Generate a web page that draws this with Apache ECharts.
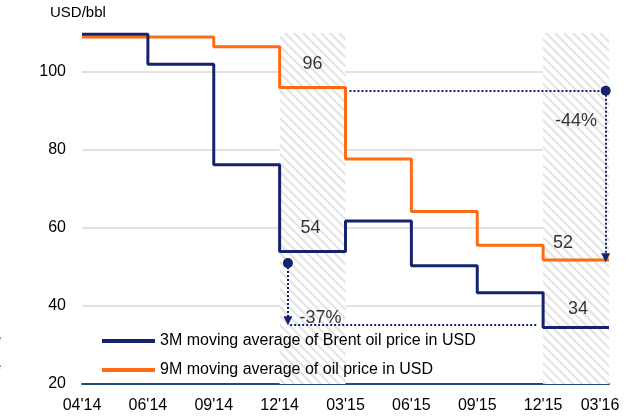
<!DOCTYPE html>
<html>
<head>
<meta charset="utf-8">
<script src="https://cdn.jsdelivr.net/npm/echarts@6/dist/echarts.min.js"></script>
<style>
  html, body { margin: 0; padding: 0; background: #ffffff; }
  #chart { width: 626px; height: 416px; }
</style>
</head>
<body>
<div id="chart"></div>
<script>
// x categories (evenly spaced quarters)
var xLabels = ["04'14", "06'14", "09'14", "12'14", "03'15", "06'15", "09'15", "12'15", "03'16"];
// 3M moving average of Brent, held until next label
var brent3M = [109.7, 102, 76.2, 54, 61.8, 50.3, 43.4, 34.5, 34.5];
// 9M moving average
var oil9M = [109, 109, 106.5, 96, 77.7, 64.2, 55.6, 51.8, 51.8];
var yTicks = [20, 40, 60, 80, 100];
// shaded periods (index from, index to)
var shadeFrom = [3, 7];
var shadeTo = [4, 8];
// value labels
var annoText = ['96', '54', '52', '34', '-44%', '-37%'];
var annoX = [3.5, 3.47, 7.3, 7.53, 7.5, 3.62];
var annoY = [102, 60, 56.2, 39.2, 87.5, 36.9];

var NAVY = '#14236b';
var ORANGE = '#ff6a13';
var FONT = '"Liberation Sans", Arial, sans-serif';

function pairs(vals) {
  return vals.map(function (v, i) { return [i, v]; });
}

// diagonal hatch pattern
var hatch = document.createElement('canvas');
hatch.width = 9; hatch.height = 9;
var hc = hatch.getContext('2d');
hc.fillStyle = '#ffffff';
hc.fillRect(0, 0, 9, 9);
hc.strokeStyle = '#e4e4e4';
hc.lineWidth = 2.2;
hc.beginPath();
hc.moveTo(-2, -2); hc.lineTo(11, 11);
hc.moveTo(-2, 7); hc.lineTo(2, 11);
hc.moveTo(7, -2); hc.lineTo(11, 2);
hc.stroke();

var chart = echarts.init(document.getElementById('chart'));

var dotted = { type: 'dotted', color: NAVY, width: 2 };

var option = {
  animation: false,
  textStyle: { fontFamily: FONT },
  grid: { left: 82, right: 17, top: 33, bottom: 32, outerBoundsMode: 'none', containLabel: false },
  graphic: [
    { type: 'text', left: 50, top: 5, style: { text: 'USD/bbl', font: '15px ' + FONT, fill: '#000' } },
    { type: 'text', left: -5, top: 333, style: { text: 'e', font: '11px ' + FONT, fill: '#333' } },
    { type: 'text', left: -5, top: 361, style: { text: 'e', font: '11px ' + FONT, fill: '#333' } }
  ],
  legend: {
    data: ['3M moving average of Brent oil price in USD', '9M moving average of oil price in USD'],
    orient: 'vertical',
    left: 97,
    top: 328,
    itemWidth: 53,
    itemHeight: 4,
    itemGap: 13,
    icon: 'rect',
    textStyle: { fontSize: 16, color: '#000', fontFamily: FONT }
  },
  xAxis: {
    type: 'value',
    min: 0,
    max: xLabels.length - 1,
    interval: 1,
    axisLine: { lineStyle: { color: '#1f4e79', width: 2 } },
    axisTick: { show: false },
    splitLine: { show: false },
    axisLabel: {
      fontSize: 16,
      color: '#000',
      margin: 14,
      formatter: function (v) {
        if (v === xLabels.length - 1) return '{last|' + xLabels[v] + '}';
        return xLabels[v] || '';
      },
      rich: {
        last: { fontSize: 16, color: '#000', fontFamily: FONT, padding: [0, 18, 0, 0] }
      }
    }
  },
  yAxis: {
    type: 'value',
    min: 20,
    max: 110,
    interval: 20,
    axisLine: { show: false },
    axisTick: { show: false },
    splitLine: {
      lineStyle: {
        color: ['#d9d9d9', '#d9d9d9', '#d9d9d9', '#d9d9d9', '#d9d9d9', 'rgba(0,0,0,0)'],
        width: 1.5
      }
    },
    axisLabel: {
      fontSize: 16,
      color: '#000',
      margin: 16,
      showMaxLabel: false,
      formatter: function (v) { return yTicks.indexOf(v) >= 0 ? String(v) : ''; }
    }
  },
  series: [
    {
      name: 'shade',
      type: 'line',
      data: [],
      silent: true,
      markArea: {
        silent: true,
        itemStyle: { color: { image: hatch, repeat: 'repeat' } },
        data: shadeFrom.map(function (f, i) { return [{ xAxis: f }, { xAxis: shadeTo[i] }]; })
      }
    },
    {
      name: '9M moving average of oil price in USD',
      type: 'line',
      step: 'end',
      symbol: 'none',
      data: pairs(oil9M),
      lineStyle: { color: ORANGE, width: 3 },
      itemStyle: { color: ORANGE },
      z: 3
    },
    {
      name: '3M moving average of Brent oil price in USD',
      type: 'line',
      step: 'end',
      symbol: 'none',
      data: pairs(brent3M),
      lineStyle: { color: NAVY, width: 3 },
      itemStyle: { color: NAVY },
      z: 4,
      markLine: {
        silent: true,
        animation: false,
        label: { show: false },
        lineStyle: dotted,
        symbolSize: 10,
        data: [
          [{ coord: [4.06, oil9M[3] - 0.8], symbol: 'none' }, { coord: [7.95, oil9M[3] - 0.8], symbol: 'circle' }],
          [{ coord: [7.95, oil9M[3] - 0.8], symbol: 'none' }, { coord: [7.95, oil9M[7] + 0.6], symbol: 'triangle', symbolSize: 9 }],
          [{ coord: [3.126, 51], symbol: 'circle' }, { coord: [3.126, 36.2], symbol: 'triangle', symbolSize: 9 }],
          [{ coord: [3.16, 35.1], symbol: 'none' }, { coord: [6.9, 35.1], symbol: 'none' }]
        ]
      }
    },
    {
      name: 'labels',
      type: 'scatter',
      symbolSize: 0,
      silent: true,
      z: 5,
      data: annoText.map(function (t, i) { return { value: [annoX[i], annoY[i]], name: t }; }),
      label: {
        show: true,
        position: 'inside',
        formatter: '{b}',
        fontSize: 18,
        color: '#000',
        fontFamily: FONT
      }
    }
  ]
};

chart.setOption(option);
</script>
</body>
</html>
